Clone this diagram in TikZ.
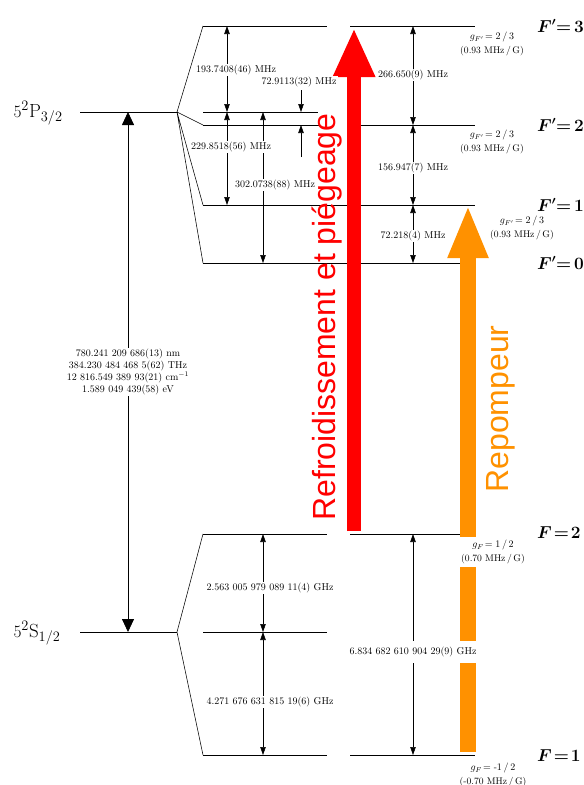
\documentclass[tikz,border=0pt]{standalone}
\usepackage{amsmath,bm}
\usepackage{fontspec}
\newfontfamily\arialf{Liberation Sans}
\usetikzlibrary{arrows.meta}
\definecolor{laserred}{RGB}{255,0,0}
\definecolor{laserorange}{RGB}{255,145,0}
\tikzset{
  level/.style={line width=0.9pt},
  fan/.style={line width=0.55pt},
  gap/.style={line width=0.55pt,{Triangle[length=8pt,width=5.5pt]}-{Triangle[length=8pt,width=5.5pt]}},
  onegap/.style={line width=0.55pt,-{Triangle[length=8pt,width=5.5pt]}},
  biggap/.style={line width=0.8pt,{Triangle[length=13pt,width=12pt]}-{Triangle[length=13pt,width=12pt]}},
  lbl/.style={fill=white,inner sep=1pt,font=\fontsize{10}{12}\selectfont},
  glbl/.style={fill=white,inner xsep=1pt,inner ysep=3pt,align=center,font=\fontsize{9.6}{14}\selectfont},
  flbl/.style={anchor=west,inner sep=0pt,font=\fontsize{16}{18}\selectfont},
  jlbl/.style={anchor=base west,font=\fontsize{19}{21}\selectfont},
  laser/.style={font=\arialf\fontsize{32}{34}\selectfont,rotate=90,anchor=base,inner sep=0pt}
}
\begin{document}
\begin{tikzpicture}[x=1pt,y=-1pt]
\useasboundingbox (0,0) rectangle (584,785);
% fine-structure levels
\coordinate (Pl) at (80,112); \coordinate (P) at (177,112);
\coordinate (Sl) at (80,632); \coordinate (S) at (177,632);
\draw[level] (Pl) -- (P);
\draw[level] (Sl) -- (S);
\node[jlbl] (Plab) at (10,117) {$5^2\mathrm{P}_{3/2}$};
\node[jlbl] (Slab) at (10,637) {$5^2\mathrm{S}_{1/2}$};
% P3/2 hyperfine levels
\coordinate (P3a) at (203,26); \coordinate (P3b) at (327,26); \coordinate (P3c) at (350,26); \coordinate (P3d) at (475,26);
\coordinate (Pca) at (203,112); \coordinate (Pcb) at (318,112);
\coordinate (P2a) at (203,125); \coordinate (P2b) at (320,125); \coordinate (P2c) at (350,125); \coordinate (P2d) at (475,125);
\coordinate (P1a) at (203,205); \coordinate (P1d) at (475,205);
\coordinate (P0a) at (203,263); \coordinate (P0d) at (475,263);
\draw[fan] (P) -- (P3a) (P) -- (P2a) (P) -- (P1a) (P) -- (P0a);
\draw[level] (P3a) -- (P3b) (P3c) -- (P3d);
\draw[level] (Pca) -- (Pcb);
\draw[level] (P2a) -- (P2b) (P2c) -- (P2d);
\draw[level] (P1a) -- (P1d);
\draw[level] (P0a) -- (P0d);
% S1/2 hyperfine levels
\coordinate (S2a) at (203,534); \coordinate (S2b) at (327,534); \coordinate (S2c) at (350,534); \coordinate (S2d) at (475,534);
\coordinate (Sca) at (203,632); \coordinate (Scb) at (327,632);
\coordinate (S1a) at (203,755); \coordinate (S1b) at (327,755); \coordinate (S1c) at (350,755); \coordinate (S1d) at (475,755);
\draw[fan] (S) -- (S2a) (S) -- (S1a);
\draw[level] (S2a) -- (S2b) (S2c) -- (S2d);
\draw[level] (Sca) -- (Scb);
\draw[level] (S1a) -- (S1b) (S1c) -- (S1d);
% laser arrows
\coordinate (redbot) at (354,531); \coordinate (redtop) at (354,28);
\draw[laserred,line width=14pt,-{Triangle[length=49pt,width=39pt]}] (redbot) -- (redtop);
\coordinate (orbot) at (468,752); \coordinate (ortop) at (468,205);
\draw[laserorange,line width=16pt,-{Triangle[length=53pt,width=37pt]}] (orbot) -- (ortop);
% interval arrows
\coordinate (m1) at (128,112); \coordinate (m2) at (128,632);
\draw[biggap] (m1) -- (m2);
\coordinate (a1) at (227,26); \coordinate (a2) at (227,112); \coordinate (a3) at (227,205);
\draw[gap] (a1) -- (a2);
\draw[gap] (a2) -- (a3);
\coordinate (b1) at (263,112); \coordinate (b2) at (263,263);
\draw[gap] (b1) -- (b2);
\coordinate (c1) at (301,90); \coordinate (c2) at (301,112); \coordinate (c3) at (301,157); \coordinate (c4) at (301,125);
\draw[onegap] (c1) -- (c2);
\draw[onegap] (c3) -- (c4);
\coordinate (d1) at (413,26); \coordinate (d2) at (413,125); \coordinate (d3) at (413,205); \coordinate (d4) at (413,263);
\draw[gap] (d1) -- (d2);
\draw[gap] (d2) -- (d3);
\draw[gap] (d3) -- (d4);
\coordinate (e1) at (263,534); \coordinate (e2) at (263,632); \coordinate (e3) at (263,755);
\draw[gap] (e1) -- (e2);
\draw[gap] (e2) -- (e3);
\coordinate (f1) at (413,534); \coordinate (f2) at (413,755);
\draw[gap] (f1) -- (f2);
% interval labels
\node[lbl] (l193) at (236,70) {193.7408(46) MHz};
\node[lbl] (l729) at (299,82) {72.9113(32) MHz};
\node[lbl] (l229) at (231,147) {229.8518(56) MHz};
\node[lbl] (l302) at (275,185) {302.0738(88) MHz};
\node[lbl] (l266) at (413,75) {266.650(9) MHz};
\node[lbl] (l156) at (413,168) {156.947(7) MHz};
\node[lbl] (l722) at (413,236) {72.218(4) MHz};
\node[lbl,align=center] (l780) at (128,372) {780.241 209 686(13) nm\\384.230 484 468 5(62) THz\\12 816.549 389 93(21) cm$^{-1}$\\1.589 049 439(58) eV};
\node[lbl] (l2563) at (270,588) {2.563 005 979 089 11(4) GHz};
\node[lbl] (l4271) at (270,702) {4.271 676 631 815 19(6) GHz};
\node[lbl,inner ysep=6pt] (l6834) at (413,652) {6.834 682 610 904 29(9) GHz};
% Lande factors
\node[glbl] (g3) at (492,44) {$g_{F'}\!=2\,/\,3$\\(0.93 MHz\,/\,G)};
\node[glbl] (g2) at (492,142) {$g_{F'}\!=2\,/\,3$\\(0.93 MHz\,/\,G)};
\node[glbl] (g1) at (522,228) {$g_{F'}\!=2\,/\,3$\\(0.93 MHz\,/\,G)};
\node[glbl] (gs2) at (493,552) {$g_{F}\!=1\,/\,2$\\(0.70 MHz\,/\,G)};
\node[glbl] (gs1) at (493,775) {$g_{F}\!=\text{-}1\,/\,2$\\(-0.70 MHz\,/\,G)};
% F labels
\node[flbl] (F3) at (537,26) {$\bm{F'{=}\,3}$};
\node[flbl] (F2) at (537,125) {$\bm{F'{=}\,2}$};
\node[flbl] (F1) at (537,205) {$\bm{F'{=}\,1}$};
\node[flbl] (F0) at (537,263) {$\bm{F'{=}\,0}$};
\node[flbl] (FS2) at (537,533) {$\bm{F\!=\!2}$};
\node[flbl] (FS1) at (537,756) {$\bm{F\!=\!1}$};
% laser labels
\node[laser,text=laserred] (tred) at (335,317) {Refroidissement et piégeage};
\node[laser,text=laserorange] (tor) at (508,409) {Repompeur};
\end{tikzpicture}
\end{document}
